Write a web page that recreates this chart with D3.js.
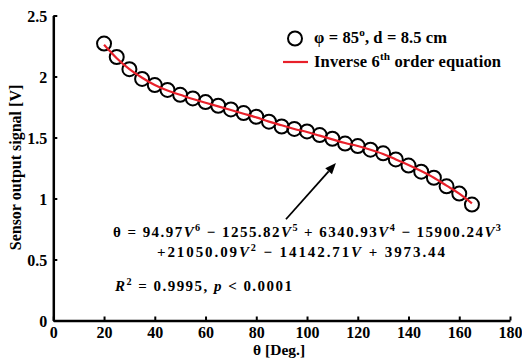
<!DOCTYPE html>
<html>
<head>
<meta charset="utf-8">
<script src="https://cdn.jsdelivr.net/npm/d3@7"></script>
<style>
  body { margin: 0; background: #fff; }
  text { font-family: "Liberation Serif", "Times New Roman", serif; font-weight: bold; fill: #000; }
</style>
</head>
<body>
<svg id="chart" width="522" height="364"></svg>
<script>
// measured points
const theta = [20, 25, 30, 35, 40, 45, 50, 55, 60, 65, 70, 75, 80, 85, 90,
               95, 100, 105, 110, 115, 120, 125, 130, 135, 140, 145, 150, 155, 160, 165];
const signal = [2.27, 2.16, 2.06, 1.98, 1.93, 1.89, 1.85, 1.82, 1.79, 1.76, 1.73, 1.70, 1.67, 1.63, 1.59,
                1.57, 1.55, 1.52, 1.49, 1.45, 1.43, 1.40, 1.37, 1.32, 1.27, 1.22, 1.17, 1.10, 1.04, 0.95];

// red fit line
const fitTheta = [20, 25, 30, 35, 40, 45, 50, 55, 60, 65, 70, 75, 80, 85, 90,
                  95, 100, 105, 110, 115, 120, 125, 130, 135, 140, 145, 150, 155, 160, 165];
const fitSignal = [2.26, 2.15, 2.06, 1.99, 1.93, 1.885, 1.85, 1.815, 1.785, 1.755, 1.725, 1.695, 1.665, 1.63, 1.60,
                   1.57, 1.545, 1.515, 1.485, 1.455, 1.43, 1.40, 1.365, 1.32, 1.275, 1.225, 1.17, 1.105, 1.04, 0.96];

const xTicks = [0, 20, 40, 60, 80, 100, 120, 140, 160, 180];
const yTicks = [0, 0.5, 1, 1.5, 2, 2.5];

const legendLabels = ['φ = 85', 'Inverse 6'];

const margin = { top: 15.5, right: 12, bottom: 43.5, left: 53.3 };
const width = 522 - margin.left - margin.right;
const height = 364 - margin.top - margin.bottom;

const svg = d3.select('#chart');
const g = svg.append('g').attr('transform', `translate(${margin.left},${margin.top})`);

const x = d3.scaleLinear().domain([0, 180]).range([0, width]);
const y = d3.scaleLinear().domain([0, 2.5]).range([height, 0]);

// axes, ticks pointing inward
const xAxis = g.append('g')
  .attr('transform', `translate(0,${height})`)
  .call(d3.axisBottom(x).tickValues(xTicks).tickSizeInner(-4).tickSizeOuter(0).tickPadding(6).tickFormat(d3.format('d')));
const yAxis = g.append('g')
  .call(d3.axisLeft(y).tickValues(yTicks).tickSizeInner(-4).tickSizeOuter(0).tickPadding(6).tickFormat(d => String(d)));

[xAxis, yAxis].forEach(a => {
  a.attr('font-family', null).attr('font-size', null);
  a.select('.domain').attr('stroke', '#000').attr('stroke-width', 2.5);
  a.selectAll('.tick line').attr('stroke', '#000').attr('stroke-width', 2);
  a.selectAll('.tick text')
    .style('font-family', '"Liberation Serif", serif')
    .style('font-weight', 'bold')
    .style('font-size', '16px')
    .attr('fill', '#000');
});
yAxis.selectAll('.tick text').attr('dy', '0.36em');

// axis titles
g.append('text')
  .attr('x', x(89)).attr('y', height + 34)
  .attr('text-anchor', 'middle').attr('font-size', 15.5)
  .text('θ [Deg.]');
g.append('text')
  .attr('transform', `translate(${21 - margin.left},${167.5 - margin.top}) rotate(-90)`)
  .attr('text-anchor', 'middle').attr('font-size', 16)
  .text('Sensor output signal [V]');

// data circles
g.selectAll('circle.pt')
  .data(theta.map((t, i) => [t, signal[i]]))
  .enter().append('circle')
  .attr('class', 'pt')
  .attr('cx', d => x(d[0]))
  .attr('cy', d => y(d[1]))
  .attr('r', 7)
  .attr('fill', 'none')
  .attr('stroke', '#000')
  .attr('stroke-width', 2);

// fit line
const line = d3.line().x(d => x(d[0])).y(d => y(d[1])).curve(d3.curveMonotoneX);
g.append('path')
  .datum(fitTheta.map((t, i) => [t, fitSignal[i]]))
  .attr('fill', 'none')
  .attr('stroke', '#e8202a')
  .attr('stroke-width', 2.2)
  .attr('d', line);

// legend
const lg = svg.append('g');
lg.append('circle').attr('cx', 295).attr('cy', 38.5).attr('r', 7)
  .attr('fill', 'none').attr('stroke', '#000').attr('stroke-width', 2);
lg.append('line').attr('x1', 283).attr('x2', 308).attr('y1', 62).attr('y2', 62)
  .attr('stroke', '#e8202a').attr('stroke-width', 2.2);

function richText(sel, px, py, size, parts, target) {
  const t = sel.append('text').attr('x', px).attr('y', py).attr('font-size', size);
  let n = 0;
  parts.forEach(p => {
    const s = t.append('tspan').text(p.t);
    n += p.t.length;
    if (p.sup) s.attr('font-size', size * 0.68).attr('dy', -size * 0.42);
    if (p.down) s.attr('dy', size * 0.42);
    if (p.it) s.attr('font-style', 'italic');
  });
  if (target) {
    const len = t.node().getComputedTextLength();
    if (len < target) t.style('letter-spacing', ((target - len) / (n - 1)) + 'px');
  }
  return t;
}

richText(lg, 314, 43, 16.5, [
  { t: legendLabels[0] }, { t: 'o', sup: true }, { t: ', d = 8.5 cm', down: true }
], 133);
richText(lg, 314, 67, 16.5, [
  { t: legendLabels[1] }, { t: 'th', sup: true }, { t: ' order equation', down: true }
], 187);

// equation annotation
const eq1 = [
  { t: 'θ = 94.97' }, { t: 'V', it: true }, { t: '6', sup: true },
  { t: ' − 1255.82', down: true }, { t: 'V', it: true }, { t: '5', sup: true },
  { t: ' + 6340.93', down: true }, { t: 'V', it: true }, { t: '4', sup: true },
  { t: ' − 15900.24', down: true }, { t: 'V', it: true }, { t: '3', sup: true }
];
const eq2 = [
  { t: '+21050.09' }, { t: 'V', it: true }, { t: '2', sup: true },
  { t: ' − 14142.71', down: true }, { t: 'V', it: true }, { t: ' + 3973.44' }
];
const eq3 = [
  { t: 'R', it: true }, { t: '2', sup: true }, { t: ' = 0.9995, ', down: true },
  { t: 'p', it: true }, { t: ' < 0.0001' }
];
richText(svg, 113, 237, 15, eq1, 388);
richText(svg, 157, 257, 15, eq2, 288);
richText(svg, 115, 291, 15, eq3, 177);

// arrow pointing at the curve
const ax1 = x(91.7), ay1 = y(0.83), ax2 = x(111.4), ay2 = y(1.29);
const ang = Math.atan2(ay2 - ay1, ax2 - ax1);
const hl = 11, hw = 4.5;
const bx = ax2 - hl * Math.cos(ang), by = ay2 - hl * Math.sin(ang);
g.append('line').attr('x1', ax1).attr('y1', ay1).attr('x2', bx).attr('y2', by)
  .attr('stroke', '#000').attr('stroke-width', 1.8);
g.append('path')
  .attr('d', `M${ax2},${ay2}L${bx - hw * Math.sin(ang)},${by + hw * Math.cos(ang)}L${bx + hw * Math.sin(ang)},${by - hw * Math.cos(ang)}Z`)
  .attr('fill', '#000');
</script>
</body>
</html>
